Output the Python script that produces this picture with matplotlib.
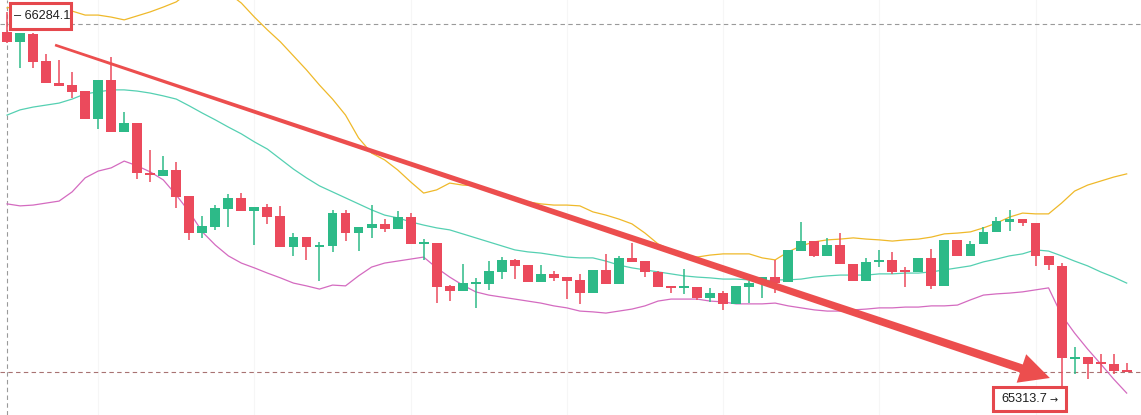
import numpy as np
import matplotlib
matplotlib.use("Agg")
import matplotlib.pyplot as plt
from matplotlib.patches import Polygon, Rectangle

# OHLC data, one candle per bar
opens = [66234, 66209, 66229, 66161, 66106, 66101, 66086, 66016, 66114, 65984,
         66006, 65881, 65874, 65889, 65824, 65731, 65746, 65791, 65819, 65786,
         65796, 65774, 65696, 65721, 65696, 65699, 65781, 65731, 65744, 65754,
         65741, 65771, 65704, 65706, 65599, 65586, 65604, 65604, 65634, 65664,
         65651, 65609, 65629, 65621, 65614, 65581, 65639, 65604, 65669, 65661,
         65634, 65599, 65594, 65596, 65569, 65581, 65554, 65596, 65614, 65621,
         65609, 65686, 65711, 65674, 65701, 65654, 65611, 65659, 65664, 65636,
         65634, 65669, 65599, 65714, 65674, 65704, 65734, 65759, 65766, 65756,
         65674, 65649, 65416, 65421, 65406, 65404, 65389]
highs = [66284.1, 66231, 66231, 66179, 66164, 66134, 66086, 66114, 66171, 66034,
         66006, 65939, 65924, 65909, 65824, 65774, 65801, 65829, 65831, 65796,
         65804, 65799, 65731, 65721, 65709, 65789, 65789, 65746, 65801, 65766,
         65786, 65781, 65716, 65706, 65601, 65654, 65619, 65661, 65671, 65666,
         65651, 65651, 65636, 65621, 65629, 65639, 65679, 65674, 65706, 65661,
         65636, 65599, 65641, 65596, 65594, 65586, 65599, 65611, 65621, 65664,
         65689, 65759, 65711, 65719, 65731, 65654, 65669, 65689, 65684, 65646,
         65669, 65691, 65714, 65714, 65711, 65746, 65771, 65789, 65766, 65756,
         65674, 65656, 65446, 65421, 65429, 65429, 65406]
lows = [66206, 66144, 66144, 66106, 66099, 66069, 66016, 65991, 65984, 65984,
        65866, 65859, 65874, 65794, 65714, 65719, 65739, 65746, 65786, 65701,
        65754, 65696, 65674, 65664, 65611, 65684, 65711, 65686, 65719, 65734,
        65741, 65704, 65664, 65556, 65561, 65586, 65544, 65589, 65616, 65616,
        65609, 65609, 65611, 65566, 65554, 65581, 65604, 65604, 65659, 65621,
        65596, 65581, 65579, 65564, 65559, 65539, 65554, 65556, 65569, 65581,
        65609, 65686, 65671, 65674, 65654, 65611, 65611, 65646, 65629, 65596,
        65634, 65591, 65599, 65674, 65674, 65704, 65734, 65736, 65749, 65649,
        65639, 65313.7, 65379, 65366, 65381, 65379, 65384]
closes = [66209, 66231, 66159, 66106, 66099, 66084, 66016, 66114, 65984, 66006,
          65881, 65876, 65889, 65821, 65731, 65749, 65794, 65819, 65786, 65796,
          65771, 65696, 65721, 65696, 65701, 65781, 65731, 65746, 65754, 65741,
          65771, 65704, 65706, 65596, 65586, 65606, 65609, 65636, 65664, 65649,
          65609, 65629, 65619, 65611, 65581, 65639, 65604, 65669, 65659, 65634,
          65596, 65594, 65599, 65569, 65581, 65554, 65599, 65606, 65621, 65606,
          65689, 65711, 65674, 65701, 65654, 65611, 65659, 65664, 65634, 65634,
          65669, 65599, 65714, 65674, 65704, 65734, 65761, 65766, 65756, 65674,
          65651, 65419, 65421, 65404, 65404, 65386, 65384]

# Bollinger bands
bb_upper = [66294, 66299, 66301, 66299, 66294, 66286, 66276, 66276, 66271, 66264,
            66274, 66284, 66296, 66309, 66334, 66351, 66351, 66331, 66306, 66271,
            66239, 66209, 66174, 66139, 66101, 66066, 66026, 65969, 65931, 65914,
            65889, 65859, 65831, 65839, 65856, 65851, 65849, 65841, 65831, 65819,
            65809, 65804, 65801, 65801, 65799, 65784, 65776, 65766, 65754, 65731,
            65704, 65689, 65676, 65671, 65676, 65679, 65679, 65679, 65669, 65664,
            65684, 65699, 65709, 65714, 65716, 65719, 65716, 65714, 65711, 65714,
            65716, 65721, 65729, 65731, 65734, 65744, 65756, 65771, 65781, 65779,
            65779, 65806, 65836, 65851, 65861, 65871, 65879]
bb_mid = [66026, 66039, 66046, 66051, 66056, 66066, 66079, 66084, 66089, 66089,
          66086, 66081, 66074, 66066, 66049, 66031, 66014, 65996, 65979, 65959,
          65941, 65916, 65891, 65869, 65849, 65834, 65819, 65804, 65789, 65776,
          65769, 65759, 65751, 65744, 65739, 65729, 65719, 65709, 65699, 65689,
          65684, 65681, 65676, 65671, 65669, 65669, 65661, 65651, 65644, 65639,
          65634, 65629, 65624, 65621, 65619, 65616, 65616, 65614, 65611, 65614,
          65614, 65616, 65621, 65624, 65626, 65626, 65626, 65629, 65629, 65631,
          65631, 65634, 65639, 65644, 65649, 65659, 65666, 65674, 65679, 65689,
          65686, 65674, 65661, 65649, 65634, 65621, 65606]
bb_lower = [65804, 65799, 65801, 65806, 65811, 65834, 65869, 65886, 65894, 65911,
            65899, 65884, 65864, 65826, 65784, 65734, 65701, 65674, 65656, 65644,
            65631, 65619, 65606, 65599, 65591, 65601, 65599, 65624, 65646, 65656,
            65661, 65666, 65671, 65644, 65621, 65601, 65584, 65576, 65571, 65566,
            65561, 65556, 65549, 65544, 65536, 65534, 65531, 65536, 65541, 65549,
            65561, 65566, 65566, 65566, 65561, 65559, 65554, 65554, 65554, 65556,
            65549, 65544, 65539, 65536, 65536, 65539, 65541, 65544, 65544, 65546,
            65546, 65549, 65549, 65551, 65564, 65576, 65579, 65581, 65584, 65589,
            65594, 65526, 65481, 65441, 65404, 65366, 65331]

top_line = 66253.7      # grey dashed level
last_line = 65383.7     # last price level

RED = '#EB4A5C'
GREEN = '#2DBA88'

fig = plt.figure(figsize=(11.41, 4.15), dpi=100)
ax = fig.add_axes([0, 0, 1, 1])
ax.set_xlim(-0.54, 87.1)
ax.set_ylim(65276.2, 66313.7)
for s in ax.spines.values():
    s.set_visible(False)
ax.set_xticks(np.arange(7, 87, 12))
ax.set_yticks([])
ax.tick_params(length=0, labelbottom=False)
ax.grid(axis='x', color='#F6F6F6', lw=0.8)
ax.set_axisbelow(True)

# bands
ax.plot(np.arange(len(bb_upper)), bb_upper, color='#EFB92A', lw=0.9, zorder=2)
ax.plot(np.arange(len(bb_mid)), bb_mid, color='#55D0B2', lw=0.9, zorder=2)
ax.plot(np.arange(len(bb_lower)), bb_lower, color='#D46BC0', lw=0.9, zorder=2)

# level lines
ax.axhline(top_line, color='#9A9A9A', lw=0.8, ls=(0, (4, 3)), zorder=1)
ax.axhline(last_line, color='#A87272', lw=0.8, ls=(0, (4, 3)), zorder=1)
ax.axvline(0, color='#9A9A9A', lw=0.8, ls=(0, (4, 3)), zorder=1)

# candles
o = np.array(opens); h = np.array(highs); l = np.array(lows); c = np.array(closes)
x = np.arange(len(o))
cols = [GREEN if cc > oo else RED for oo, cc in zip(o, c)]
ax.vlines(x, l, h, colors=cols, lw=1.1, zorder=3)
body = np.maximum(np.abs(c - o), 4)
ax.bar(x, body, bottom=np.minimum(o, c), width=0.76, color=cols, zorder=4)

# tapered arrow
def tapered_arrow(p0, p1, w0, w1, head_w, head_len, color):
    T = ax.transData
    a = T.transform(p0)
    b = T.transform(p1)
    u = (b - a) / np.hypot(*(b - a))
    n = np.array([-u[1], u[0]])
    base = b - u * head_len
    pts = [a + n * w0 / 2, base + n * w1 / 2, base + n * head_w / 2, b,
           base - n * head_w / 2, base - n * w1 / 2, a - n * w0 / 2]
    ax.add_patch(Polygon(T.inverted().transform(pts), closed=True,
                         fc=color, ec='none', zorder=6))

tapered_arrow((3.69, 66201.2), (80.1, 65368.7), 2.6, 8.5, 30, 30, '#EC4E4E')

# value labels
BOX = '#E5484D'
def label_box(px, py, w, hgt):
    fig.patches.append(Rectangle((px / 1141, 1 - (py + hgt) / 415), w / 1141, hgt / 415,
                                 transform=fig.transFigure, fc='white', ec=BOX,
                                 lw=2.2, zorder=7))

label_box(10, 3, 61, 26)
fig.text(14 / 1141, 1 - 16 / 415, '– %.1f' % max(highs), ha='left', va='center',
         fontsize=9.2, color='#1E1E1E', family=['Liberation Sans', 'DejaVu Sans'], zorder=8)

label_box(993, 387, 73, 24)
fig.text(1001 / 1141, 1 - 399 / 415, '%.1f' % min(lows), ha='left', va='center',
         fontsize=9.2, color='#1E1E1E', family=['Liberation Sans', 'DejaVu Sans'], zorder=8)
fig.text(1049 / 1141, 1 - 400 / 415, '→', ha='left', va='center',
         fontsize=7, color='#1E1E1E', family=['DejaVu Sans'], zorder=8)

fig.savefig('out.png', dpi=100)
